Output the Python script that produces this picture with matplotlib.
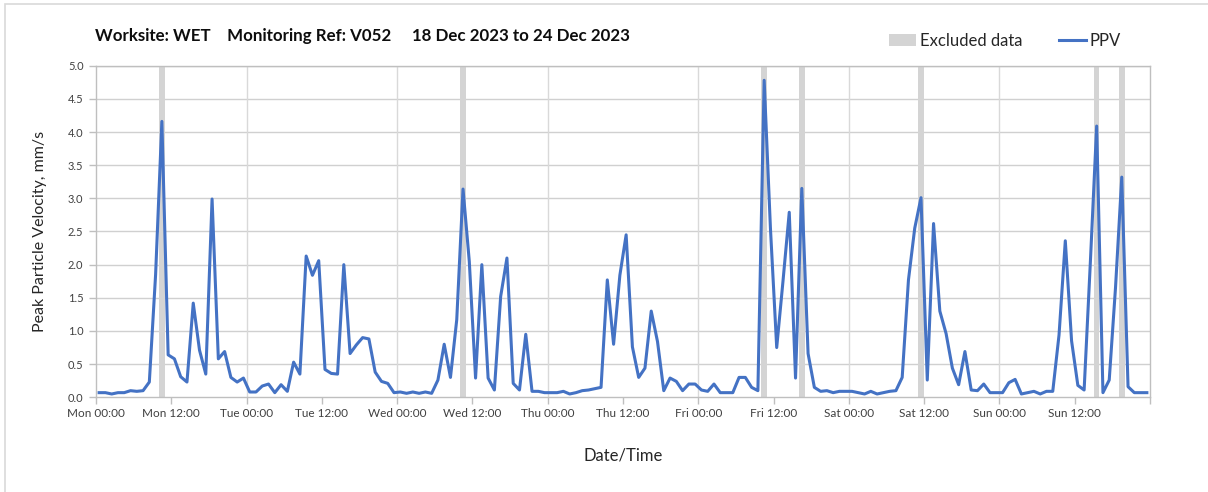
import matplotlib
matplotlib.use("Agg")
import matplotlib.pyplot as plt
from matplotlib.patches import Rectangle, Patch
from matplotlib.lines import Line2D
import numpy as np

# ---- data ----
ppv = [
    0.07, 0.07, 0.05, 0.07, 0.07, 0.10, 0.09, 0.10, 0.23, 1.85,
    4.16, 0.64, 0.58, 0.31, 0.23, 1.42, 0.71, 0.35, 2.99, 0.58,
    0.69, 0.30, 0.23, 0.29, 0.08, 0.08, 0.17, 0.20, 0.07, 0.19,
    0.09, 0.53, 0.35, 2.13, 1.84, 2.06, 0.42, 0.36, 0.35, 2.00,
    0.66, 0.79, 0.90, 0.88, 0.38, 0.24, 0.21, 0.07, 0.08, 0.06,
    0.08, 0.06, 0.08, 0.06, 0.26, 0.80, 0.30, 1.17, 3.14, 2.05,
    0.29, 2.00, 0.29, 0.11, 1.52, 2.10, 0.21, 0.11, 0.95, 0.09,
    0.09, 0.07, 0.07, 0.07, 0.09, 0.05, 0.07, 0.10, 0.11, 0.13,
    0.15, 1.77, 0.80, 1.84, 2.45, 0.76, 0.30, 0.44, 1.30, 0.84,
    0.10, 0.29, 0.24, 0.10, 0.20, 0.20, 0.11, 0.09, 0.20, 0.07,
    0.07, 0.07, 0.30, 0.30, 0.15, 0.10, 4.78, 2.55, 0.75, 1.75,
    2.79, 0.29, 3.15, 0.66, 0.15, 0.09, 0.10, 0.07, 0.09, 0.09,
    0.09, 0.07, 0.05, 0.09, 0.05, 0.07, 0.09, 0.10, 0.30, 1.77,
    2.55, 3.01, 0.26, 2.62, 1.30, 0.96, 0.44, 0.19, 0.69, 0.11,
    0.10, 0.20, 0.07, 0.07, 0.07, 0.22, 0.27, 0.05, 0.07, 0.09,
    0.05, 0.09, 0.09, 0.94, 2.36, 0.85, 0.18, 0.11, 2.05, 4.09,
    0.07, 0.26, 1.65, 3.32, 0.16, 0.07, 0.07, 0.07,
]
hours = [i + 0.5 for i in range(len(ppv))]          # hours since Mon 00:00
excluded_idx = [10, 58, 106, 112, 131, 159, 163]
tick_labels = ["Mon 00:00", "Mon 12:00", "Tue 00:00", "Tue 12:00",
               "Wed 00:00", "Wed 12:00", "Thu 00:00", "Thu 12:00",
               "Fri 00:00", "Fri 12:00", "Sat 00:00", "Sat 12:00",
               "Sun 00:00", "Sun 12:00", ""]
title = "Worksite: WET    Monitoring Ref: V052     18 Dec 2023 to 24 Dec 2023"

# ---- figure ----
plt.rcParams['font.family'] = ['Lato', 'DejaVu Sans']
fig = plt.figure(figsize=(12.08, 4.92), dpi=100)
ax = fig.add_axes([96 / 1208, 1 - 397.3 / 492, (1150 - 96) / 1208, (397.3 - 65.7) / 492])

# outer chart border (top and left visible)
fig.patches.append(Rectangle((5 / 1208, -0.1), 1.2, 1 - 4 / 492 + 0.1,
                             transform=fig.transFigure, fill=False,
                             edgecolor='#d9d9d9', linewidth=1.2))

band_color = '#d4d4d4'
for k in excluded_idx:
    ax.axvspan(hours[k] - 0.45, hours[k] + 0.45, color=band_color, lw=0, zorder=1)

line_color = '#4472C4'
ax.plot(hours, ppv, color=line_color, lw=2.2, zorder=3, solid_joinstyle='round')

ax.set_xlim(0, 168)
ax.set_ylim(0, 5.0)
ax.set_yticks(np.arange(0, 5.01, 0.5))
ax.set_yticklabels([f"{v:.1f}" for v in np.arange(0, 5.01, 0.5)])
ax.set_xticks(np.arange(0, 169, 12))
ax.set_xticklabels(tick_labels)

ax.grid(False)
for v in np.arange(0.5, 5.01, 0.5):
    ax.axhline(v, color='#d0d0d0', lw=1.0, zorder=0)
for d in range(24, 168, 24):
    ax.axvline(d, color='#d9d9d9', lw=1.0, zorder=0)

for s in ax.spines.values():
    s.set_color('#bfbfbf')
    s.set_linewidth(1.0)

ax.tick_params(axis='both', colors='#bfbfbf', length=5, width=1.0,
               labelcolor='#404040', labelsize=8.5)
ax.tick_params(axis='x', pad=3)
ax.tick_params(axis='y', pad=4, labelsize=8)

ax.set_ylabel("Peak Particle Velocity, mm/s", fontsize=11.5, color='#262626', labelpad=15)
ax.set_xlabel("Date/Time", fontsize=12, color='#262626', labelpad=20)

fig.text(95 / 1208, 1 - 36 / 492, title, fontsize=12.2, fontweight='bold',
         color='#0d0d0d', ha='left', va='center')

handles = [Patch(facecolor=band_color, edgecolor='none', label='Excluded data'),
           Line2D([0], [0], color=line_color, lw=2.2, label='PPV')]
fig.legend(handles=handles, loc='center right', bbox_to_anchor=(1121 / 1208, 1 - 41 / 492),
           ncol=2, frameon=False, fontsize=12, handlelength=1.6, handletextpad=0.25,
           columnspacing=2.2, labelcolor='#262626', borderaxespad=0, borderpad=0)

fig.savefig("out.png", dpi=100)
